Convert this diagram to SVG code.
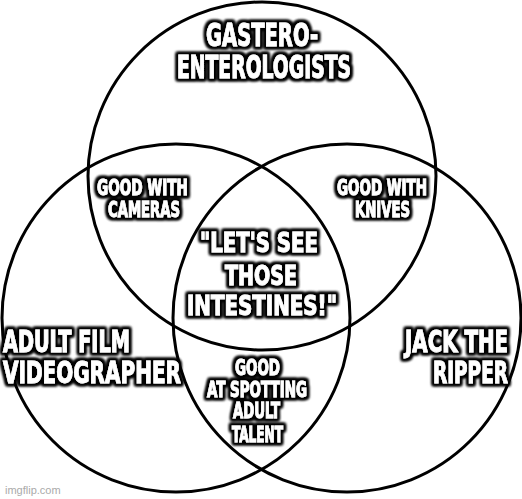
<svg xmlns="http://www.w3.org/2000/svg" width="522" height="499" viewBox="0 0 522 499">
<defs>
<filter id="halo" x="-20%" y="-40%" width="140%" height="180%">
<feMorphology in="SourceAlpha" operator="dilate" radius="2" result="d"/>
<feGaussianBlur in="d" stdDeviation="1.4" result="b"/>
<feMerge><feMergeNode in="b"/><feMergeNode in="b"/><feMergeNode in="b"/><feMergeNode in="SourceGraphic"/></feMerge>
</filter>
<style>
.c{fill:none;stroke:#000;stroke-width:3}
.t{font-family:"Liberation Sans Narrow","DejaVu Sans Condensed","Liberation Sans",sans-serif;font-weight:bold;fill:#fff;stroke:#fff;stroke-width:0.8;filter:url(#halo)}
.wm{font-family:"Liberation Sans",Arial,sans-serif;font-size:11px;fill:#aaa}
</style>
</defs>
<rect width="522" height="499" fill="#fff"/>
<g id="connectors">
<circle class="c" cx="262" cy="176" r="174"/>
<circle class="c" cx="176" cy="318" r="174"/>
<circle class="c" cx="347" cy="318" r="174"/>
</g>
<g id="gastro" class="t" font-size="32">
<text x="206" y="46" textLength="112" lengthAdjust="spacingAndGlyphs">GASTERO-</text>
<text x="177" y="78" textLength="174" lengthAdjust="spacingAndGlyphs">ENTEROLOGISTS</text>
</g>
<g id="cameras" class="t" font-size="20.5">
<text x="97" y="195" textLength="91" lengthAdjust="spacingAndGlyphs">GOOD WITH</text>
<text x="108" y="217" textLength="72" lengthAdjust="spacingAndGlyphs">CAMERAS</text>
</g>
<g id="knives" class="t" font-size="20.5">
<text x="337" y="195" textLength="90" lengthAdjust="spacingAndGlyphs">GOOD WITH</text>
<text x="355" y="217" textLength="55" lengthAdjust="spacingAndGlyphs">KNIVES</text>
</g>
<g id="center" class="t" font-size="26.5">
<text x="200" y="252" textLength="118" lengthAdjust="spacingAndGlyphs">"LET'S SEE</text>
<text x="225" y="285" textLength="72" lengthAdjust="spacingAndGlyphs">THOSE</text>
<text x="187" y="315" textLength="150" lengthAdjust="spacingAndGlyphs">INTESTINES!"</text>
</g>
<g id="videographer" class="t" font-size="30">
<text x="3" y="352" textLength="127" lengthAdjust="spacingAndGlyphs">ADULT FILM</text>
<text x="3" y="383" textLength="178" lengthAdjust="spacingAndGlyphs">VIDEOGRAPHER</text>
</g>
<g id="ripper" class="t" font-size="30">
<text x="405" y="352" textLength="103" lengthAdjust="spacingAndGlyphs">JACK THE</text>
<text x="433" y="383" textLength="75" lengthAdjust="spacingAndGlyphs">RIPPER</text>
</g>
<g id="talent" class="t" font-size="21">
<text x="235" y="375" textLength="45" lengthAdjust="spacingAndGlyphs">GOOD</text>
<text x="207" y="397" textLength="100" lengthAdjust="spacingAndGlyphs">AT SPOTTING</text>
<text x="233" y="418" textLength="47" lengthAdjust="spacingAndGlyphs">ADULT</text>
<text x="232" y="442" textLength="51" lengthAdjust="spacingAndGlyphs">TALENT</text>
</g>
<text class="wm" x="5" y="494">imgflip.com</text>
</svg>
